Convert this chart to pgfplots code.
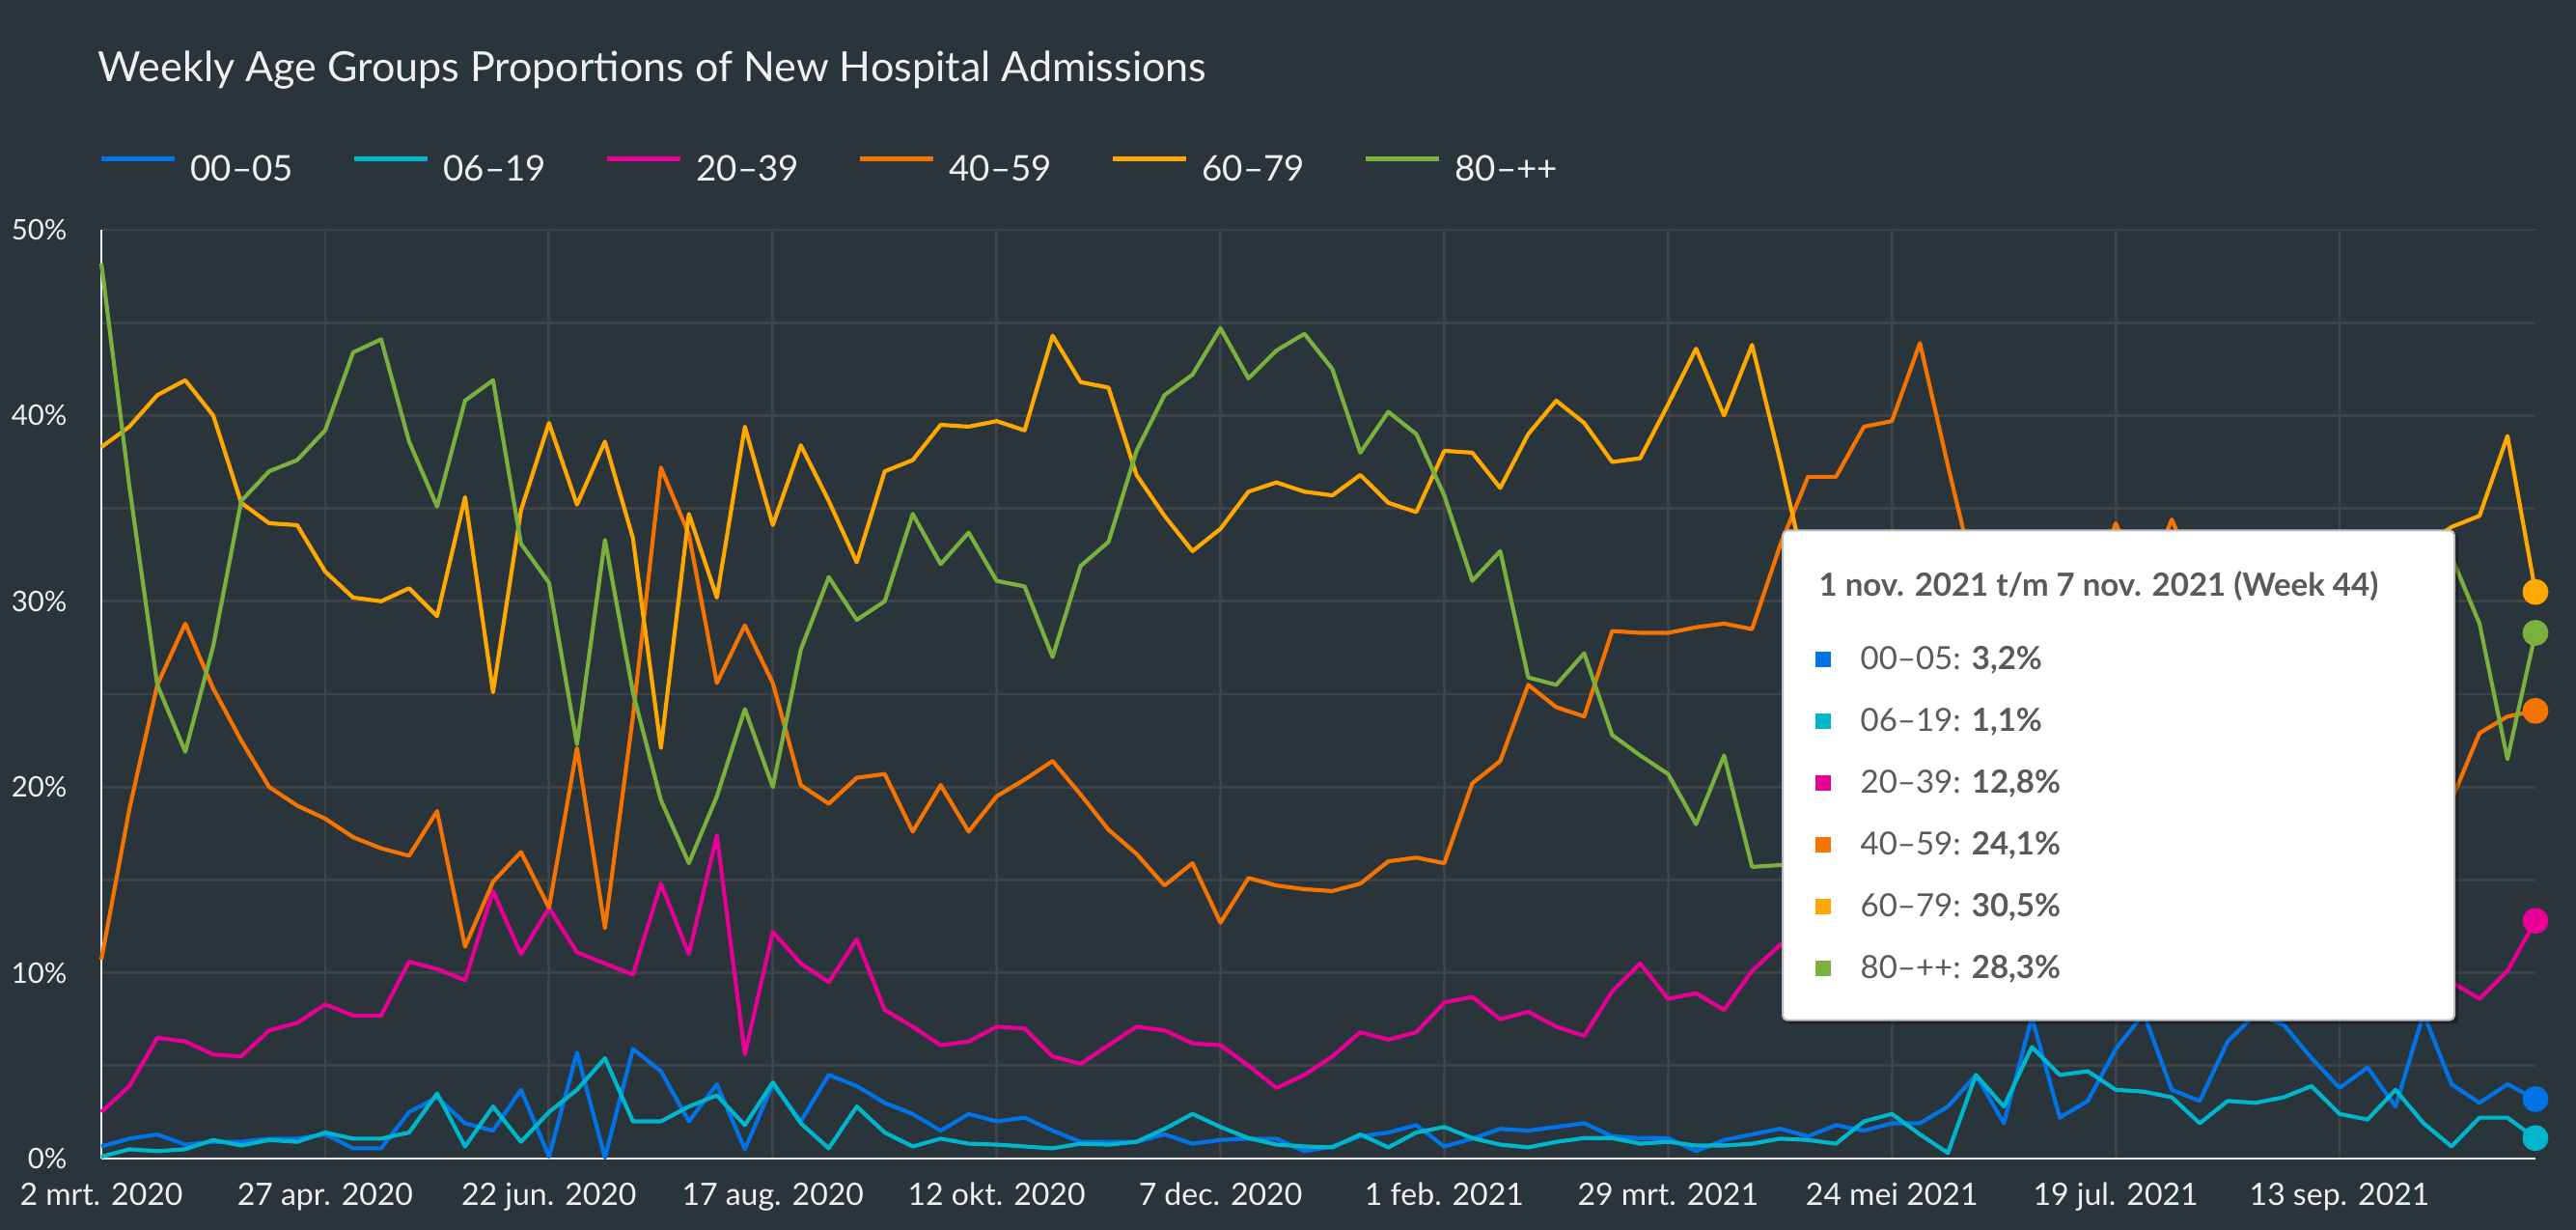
\documentclass[border=0pt]{standalone}
\usepackage{fontspec}
\setmainfont{Lato}
\usepackage{pgfplots}
\usepackage{pgfplotstable}
\pgfplotsset{compat=1.18}
\definecolor{bg}{RGB}{42,52,59}
\definecolor{gridc}{RGB}{62,67,72}
\definecolor{ca}{RGB}{0,115,230}
\definecolor{cb}{RGB}{0,182,202}
\definecolor{cc}{RGB}{232,0,150}
\definecolor{cd}{RGB}{245,115,0}
\definecolor{ce}{RGB}{255,168,0}
\definecolor{cf}{RGB}{122,176,61}
\definecolor{tipt}{RGB}{90,90,90}
\definecolor{txt}{RGB}{240,240,240}

\pgfplotstableread{
w a b c d e f
0 0.65 0.1 2.5 10.7 38.3 48.2
1 1.07 0.5 3.9 18.8 39.4 36.2
2 1.3 0.4 6.5 25.5 41.1 25.5
3 0.75 0.5 6.3 28.8 41.9 21.9
4 0.9 1.0 5.6 25.3 40.0 27.6
5 0.9 0.7 5.5 22.5 35.3 35.4
6 1.07 1.0 6.9 20.0 34.2 37.0
7 1.07 0.9 7.3 19.0 34.1 37.6
8 1.3 1.4 8.3 18.3 31.6 39.2
9 0.55 1.07 7.7 17.3 30.2 43.4
10 0.55 1.07 7.7 16.7 30.0 44.1
11 2.5 1.4 10.6 16.3 30.7 38.6
12 3.3 3.5 10.2 18.7 29.2 35.1
13 1.9 0.65 9.6 11.4 35.6 40.8
14 1.5 2.8 14.4 14.9 25.1 41.9
15 3.7 0.9 11.0 16.5 34.9 33.1
16 0.1 2.5 13.5 13.5 39.6 31.0
17 5.7 3.7 11.1 22.1 35.2 22.3
18 0.05 5.4 10.5 12.4 38.6 33.3
19 5.9 2.0 9.9 23.8 33.4 25.1
20 4.7 2.0 14.8 37.2 22.1 19.3
21 2.0 2.8 11.0 33.6 34.7 15.9
22 4.0 3.4 17.4 25.6 30.2 19.5
23 0.5 1.8 5.6 28.7 39.4 24.2
24 4.0 4.1 12.2 25.6 34.1 20.0
25 2.0 1.9 10.5 20.1 38.4 27.4
26 4.5 0.55 9.5 19.1 35.4 31.3
27 3.9 2.8 11.8 20.5 32.1 29.0
28 3.0 1.4 8.0 20.7 37.0 30.0
29 2.4 0.65 7.1 17.6 37.6 34.7
30 1.5 1.07 6.1 20.1 39.5 32.0
31 2.4 0.8 6.3 17.6 39.4 33.7
32 2.0 0.75 7.1 19.5 39.7 31.1
33 2.2 0.65 7.0 20.4 39.2 30.8
34 1.5 0.55 5.5 21.4 44.3 27.0
35 0.9 0.8 5.1 19.6 41.8 31.9
36 0.9 0.75 6.1 17.7 41.5 33.2
37 0.9 0.9 7.1 16.4 36.8 38.1
38 1.3 1.6 6.9 14.7 34.6 41.1
39 0.8 2.4 6.2 15.9 32.7 42.2
40 1.0 1.7 6.1 12.7 33.9 44.7
41 1.07 1.1 5.0 15.1 35.9 42.0
42 1.07 0.75 3.8 14.7 36.4 43.5
43 0.4 0.65 4.5 14.5 35.9 44.4
44 0.65 0.6 5.5 14.4 35.7 42.5
45 1.2 1.3 6.8 14.8 36.8 38.0
46 1.4 0.6 6.4 16.0 35.3 40.2
47 1.8 1.4 6.8 16.2 34.8 39.0
48 0.65 1.7 8.4 15.9 38.1 35.7
49 1.07 1.1 8.7 20.2 38.0 31.1
50 1.6 0.75 7.5 21.4 36.1 32.7
51 1.5 0.6 7.9 25.5 39.0 25.9
52 1.7 0.9 7.1 24.3 40.8 25.5
53 1.9 1.1 6.6 23.8 39.6 27.2
54 1.2 1.1 9.0 28.4 37.5 22.8
55 1.1 0.8 10.5 28.3 37.7 21.7
56 1.1 0.9 8.6 28.3 40.6 20.7
57 0.4 0.7 8.9 28.6 43.6 18.0
58 1.0 0.7 8.0 28.8 40.0 21.7
59 1.3 0.8 10.1 28.5 43.8 15.7
60 1.6 1.07 11.5 33.0 37.6 15.8
61 1.2 1.0 12.5 36.7 31.0 15.5
62 1.8 0.8 13.5 36.7 29.0 15.0
63 1.5 2.0 12.8 39.4 27.5 14.0
64 1.9 2.4 14.5 39.7 26.0 13.0
65 1.9 1.3 14.0 43.9 25.0 11.5
66 2.8 0.3 16.5 37.3 24.0 10.0
67 4.5 4.5 20.0 31.0 23.0 9.5
68 1.9 2.8 23.5 31.5 23.5 10.0
69 7.6 6.0 22.0 30.5 22.0 10.5
70 2.2 4.5 19.5 31.0 23.5 11.5
71 3.1 4.7 17.5 30.0 25.0 12.0
72 5.9 3.7 16.0 34.2 24.5 13.0
73 7.8 3.6 15.0 30.5 25.5 14.0
74 3.7 3.3 14.0 34.4 26.5 15.5
75 3.1 1.9 13.5 31.0 27.5 17.0
76 6.3 3.1 12.5 30.0 27.0 18.5
77 7.8 3.0 12.0 29.0 28.5 20.0
78 7.2 3.3 11.5 27.5 29.5 21.5
79 5.4 3.9 11.0 26.5 30.5 23.5
80 3.8 2.4 10.5 25.0 30.0 25.0
81 4.9 2.1 11.0 24.0 31.5 27.0
82 2.8 3.7 10.0 22.5 32.0 29.0
83 7.8 1.9 10.5 21.0 33.0 31.0
84 4.0 0.65 9.5 19.3 34.0 32.4
85 3.0 2.2 8.6 22.9 34.6 28.8
86 4.0 2.2 10.1 23.8 38.9 21.5
87 3.2 1.1 12.8 24.1 30.5 28.3
}\datatable

\begin{document}
\begin{tikzpicture}
\path[use as bounding box, fill=bg] (0,0) rectangle (800.7pt,382.2pt);
\node[anchor=base west, inner sep=0pt, text=txt, font=\fontsize{12.9}{15}\selectfont] at (30.3pt,356.7pt) {Weekly Age Groups Proportions of New Hospital Admissions};
\begin{axis}[
  at={(31.5pt,22.2pt)}, anchor=south west,
  scale only axis, width=756.6pt, height=288.6pt,
  xmin=0, xmax=87, ymin=0, ymax=50,
  clip=false,
  axis x line*=bottom, axis y line*=left,
  axis line style={txt, line width=0.7pt, -},
  xtick={0,8,...,80},
  xticklabels={2 mrt. 2020, 27 apr. 2020, 22 jun. 2020, 17 aug. 2020, 12 okt. 2020, 7 dec. 2020, 1 feb. 2021, 29 mrt. 2021, 24 mei 2021, 19 jul. 2021, 13 sep. 2021},
  ytick={0,10,20,30,40,50},
  yticklabels={0\%,10\%,20\%,30\%,40\%,50\%},
  minor ytick={5,15,25,35,45},
  major tick length=0pt, minor tick length=0pt,
  grid=both,
  major grid style={gridc, line width=0.8pt},
  minor grid style={gridc, line width=0.8pt},
  /pgf/number format/assume math mode=true,
  xticklabel style={font=\fontsize{9.6}{11}\selectfont, text=txt, inner sep=0pt, anchor=base, yshift=-14.7pt},
  yticklabel style={font=\fontsize{8.8}{10}\selectfont, text=txt, inner sep=0pt, anchor=east, xshift=-10.5pt},
  legend image code/.code={\draw[#1, line width=1.4pt] (0pt,3.8pt) -- (22.8pt,3.8pt);},
  legend style={at={(axis description cs:-0.0008,1.0468)}, anchor=south west, draw=none, fill=none, inner sep=0pt, outer sep=0pt, nodes={inner sep=0pt, text=txt, font=\fontsize{11}{13}\selectfont}, column sep=0pt},
  legend columns=6,
  every axis plot/.append style={line width=1.25pt, line join=round, mark=*, mark indices={88}, mark size=3.4pt},
]
\addplot[ca, mark options={solid, fill=ca, draw=ca}] table[x=w, y=a] {\datatable};
\addlegendentry{\makebox[54.4pt][l]{\hspace{4.2pt}00--05}}
\addplot[cb, mark options={solid, fill=cb, draw=cb}] table[x=w, y=b] {\datatable};
\addlegendentry{\makebox[54.4pt][l]{\hspace{4.2pt}06--19}}
\addplot[cc, mark options={solid, fill=cc, draw=cc}] table[x=w, y=c] {\datatable};
\addlegendentry{\makebox[54.4pt][l]{\hspace{4.2pt}20--39}}
\addplot[cd, mark options={solid, fill=cd, draw=cd}] table[x=w, y=d] {\datatable};
\addlegendentry{\makebox[54.4pt][l]{\hspace{4.2pt}40--59}}
\addplot[ce, mark options={solid, fill=ce, draw=ce}] table[x=w, y=e] {\datatable};
\addlegendentry{\makebox[54.4pt][l]{\hspace{4.2pt}60--79}}
\addplot[cf, mark options={solid, fill=cf, draw=cf}] table[x=w, y=f] {\datatable};
\addlegendentry{\makebox[54.4pt][l]{\hspace{4.2pt}80--++}}
\end{axis}
% tooltip
\fill[black, opacity=0.35, rounded corners=1.5pt] (555.1pt,64.0pt) rectangle (764.1pt,216.6pt);
\draw[fill=white, draw=black!25, line width=0.6pt, rounded corners=1.5pt] (554.1pt,65.2pt) rectangle (762.9pt,217.35pt);
\node[anchor=base west, inner sep=0pt, text=tipt, font=\fontsize{9.9}{12}\selectfont\bfseries] at (565.2pt,196.8pt) {1 nov. 2021 t/m 7 nov. 2021 (Week 44)};
\fill[ca] (564.3pt,174.8pt) rectangle (569.1pt,179.8pt);
\node[anchor=base west, inner sep=0pt, text=tipt, font=\fontsize{9.9}{12}\selectfont] at (578.1pt,174.0pt) {00--05: \textbf{3,2\%}};
\fill[cb] (564.3pt,155.6pt) rectangle (569.1pt,160.6pt);
\node[anchor=base west, inner sep=0pt, text=tipt, font=\fontsize{9.9}{12}\selectfont] at (578.1pt,154.8pt) {06--19: \textbf{1,1\%}};
\fill[cc] (564.3pt,136.4pt) rectangle (569.1pt,141.4pt);
\node[anchor=base west, inner sep=0pt, text=tipt, font=\fontsize{9.9}{12}\selectfont] at (578.1pt,135.6pt) {20--39: \textbf{12,8\%}};
\fill[cd] (564.3pt,117.2pt) rectangle (569.1pt,122.2pt);
\node[anchor=base west, inner sep=0pt, text=tipt, font=\fontsize{9.9}{12}\selectfont] at (578.1pt,116.4pt) {40--59: \textbf{24,1\%}};
\fill[ce] (564.3pt,98.0pt) rectangle (569.1pt,103.0pt);
\node[anchor=base west, inner sep=0pt, text=tipt, font=\fontsize{9.9}{12}\selectfont] at (578.1pt,97.2pt) {60--79: \textbf{30,5\%}};
\fill[cf] (564.3pt,78.8pt) rectangle (569.1pt,83.8pt);
\node[anchor=base west, inner sep=0pt, text=tipt, font=\fontsize{9.9}{12}\selectfont] at (578.1pt,78.0pt) {80--++: \textbf{28,3\%}};
\end{tikzpicture}
\end{document}
